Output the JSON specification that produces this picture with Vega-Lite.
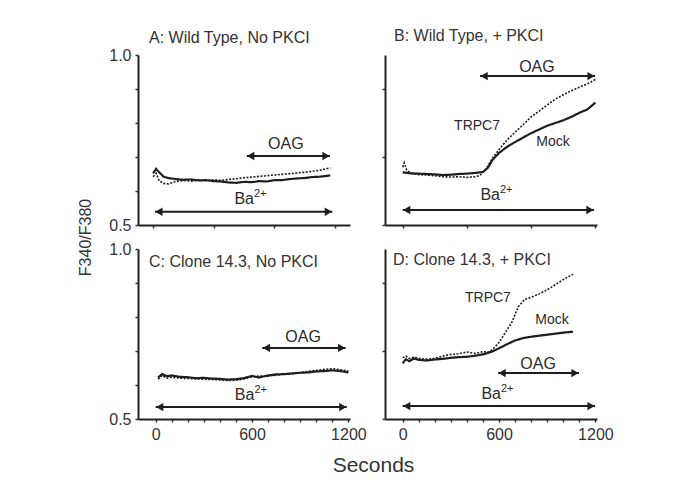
{
  "$schema": "https://vega.github.io/schema/vega-lite/v6.json",
  "padding": {"left": 77, "top": 28, "right": 5, "bottom": 5},
  "background": "white",
  "config": {
    "view": {"stroke": null},
    "font": "Liberation Sans",
    "axis": {"domainColor": "#222", "domainWidth": 2, "tickColor": "#333", "tickWidth": 1.5, "tickSize": 3, "labelFont": "Liberation Sans", "labelFontSize": 16, "labelColor": "#333", "grid": false, "labelPadding": 4, "labelFlush": false, "labelBound": false},
    "title": {"font": "Liberation Sans", "fontSize": 16, "fontWeight": "normal", "color": "#333", "anchor": "start", "frame": "group"},
    "text": {"font": "Liberation Sans", "color": "#2a2a2a", "baseline": "middle"}
  },
  "datasets": {
    "traces": [
      {"panel":"A","series":"Mock","t":0,"ratio":0.652},{"panel":"A","series":"Mock","t":20,"ratio":0.665},{"panel":"A","series":"Mock","t":40,"ratio":0.655},{"panel":"A","series":"Mock","t":70,"ratio":0.642},{"panel":"A","series":"Mock","t":100,"ratio":0.638},{"panel":"A","series":"Mock","t":150,"ratio":0.635},{"panel":"A","series":"Mock","t":200,"ratio":0.633},{"panel":"A","series":"Mock","t":250,"ratio":0.634},{"panel":"A","series":"Mock","t":300,"ratio":0.631},{"panel":"A","series":"Mock","t":350,"ratio":0.632},{"panel":"A","series":"Mock","t":400,"ratio":0.629},{"panel":"A","series":"Mock","t":450,"ratio":0.628},{"panel":"A","series":"Mock","t":500,"ratio":0.625},{"panel":"A","series":"Mock","t":550,"ratio":0.624},{"panel":"A","series":"Mock","t":600,"ratio":0.627},{"panel":"A","series":"Mock","t":650,"ratio":0.626},{"panel":"A","series":"Mock","t":700,"ratio":0.629},{"panel":"A","series":"Mock","t":750,"ratio":0.628},{"panel":"A","series":"Mock","t":800,"ratio":0.632},{"panel":"A","series":"Mock","t":850,"ratio":0.632},{"panel":"A","series":"Mock","t":900,"ratio":0.635},{"panel":"A","series":"Mock","t":950,"ratio":0.637},{"panel":"A","series":"Mock","t":1000,"ratio":0.638},{"panel":"A","series":"Mock","t":1050,"ratio":0.641},{"panel":"A","series":"Mock","t":1100,"ratio":0.642},{"panel":"A","series":"Mock","t":1140,"ratio":0.644},{"panel":"A","series":"Mock","t":1170,"ratio":0.646},
      {"panel":"A","series":"TRPC7","t":0,"ratio":0.642},{"panel":"A","series":"TRPC7","t":20,"ratio":0.652},{"panel":"A","series":"TRPC7","t":40,"ratio":0.63},{"panel":"A","series":"TRPC7","t":70,"ratio":0.622},{"panel":"A","series":"TRPC7","t":100,"ratio":0.621},{"panel":"A","series":"TRPC7","t":150,"ratio":0.628},{"panel":"A","series":"TRPC7","t":200,"ratio":0.631},{"panel":"A","series":"TRPC7","t":250,"ratio":0.629},{"panel":"A","series":"TRPC7","t":300,"ratio":0.632},{"panel":"A","series":"TRPC7","t":350,"ratio":0.63},{"panel":"A","series":"TRPC7","t":400,"ratio":0.633},{"panel":"A","series":"TRPC7","t":450,"ratio":0.631},{"panel":"A","series":"TRPC7","t":500,"ratio":0.634},{"panel":"A","series":"TRPC7","t":550,"ratio":0.636},{"panel":"A","series":"TRPC7","t":600,"ratio":0.639},{"panel":"A","series":"TRPC7","t":650,"ratio":0.641},{"panel":"A","series":"TRPC7","t":700,"ratio":0.643},{"panel":"A","series":"TRPC7","t":750,"ratio":0.645},{"panel":"A","series":"TRPC7","t":800,"ratio":0.647},{"panel":"A","series":"TRPC7","t":850,"ratio":0.649},{"panel":"A","series":"TRPC7","t":900,"ratio":0.651},{"panel":"A","series":"TRPC7","t":950,"ratio":0.653},{"panel":"A","series":"TRPC7","t":1000,"ratio":0.655},{"panel":"A","series":"TRPC7","t":1050,"ratio":0.658},{"panel":"A","series":"TRPC7","t":1100,"ratio":0.661},{"panel":"A","series":"TRPC7","t":1140,"ratio":0.665},{"panel":"A","series":"TRPC7","t":1170,"ratio":0.668},
      {"panel":"B","series":"Mock","t":0,"ratio":0.655},{"panel":"B","series":"Mock","t":50,"ratio":0.652},{"panel":"B","series":"Mock","t":100,"ratio":0.651},{"panel":"B","series":"Mock","t":150,"ratio":0.65},{"panel":"B","series":"Mock","t":200,"ratio":0.649},{"panel":"B","series":"Mock","t":250,"ratio":0.647},{"panel":"B","series":"Mock","t":300,"ratio":0.648},{"panel":"B","series":"Mock","t":350,"ratio":0.65},{"panel":"B","series":"Mock","t":400,"ratio":0.651},{"panel":"B","series":"Mock","t":450,"ratio":0.653},{"panel":"B","series":"Mock","t":500,"ratio":0.656},{"panel":"B","series":"Mock","t":530,"ratio":0.668},{"panel":"B","series":"Mock","t":560,"ratio":0.692},{"panel":"B","series":"Mock","t":600,"ratio":0.712},{"panel":"B","series":"Mock","t":650,"ratio":0.73},{"panel":"B","series":"Mock","t":700,"ratio":0.744},{"panel":"B","series":"Mock","t":750,"ratio":0.757},{"panel":"B","series":"Mock","t":800,"ratio":0.77},{"panel":"B","series":"Mock","t":850,"ratio":0.781},{"panel":"B","series":"Mock","t":900,"ratio":0.792},{"panel":"B","series":"Mock","t":950,"ratio":0.8},{"panel":"B","series":"Mock","t":1000,"ratio":0.808},{"panel":"B","series":"Mock","t":1050,"ratio":0.818},{"panel":"B","series":"Mock","t":1100,"ratio":0.83},{"panel":"B","series":"Mock","t":1150,"ratio":0.84},{"panel":"B","series":"Mock","t":1200,"ratio":0.86},
      {"panel":"B","series":"TRPC7","t":0,"ratio":0.67},{"panel":"B","series":"TRPC7","t":10,"ratio":0.683},{"panel":"B","series":"TRPC7","t":25,"ratio":0.662},{"panel":"B","series":"TRPC7","t":50,"ratio":0.652},{"panel":"B","series":"TRPC7","t":100,"ratio":0.648},{"panel":"B","series":"TRPC7","t":150,"ratio":0.647},{"panel":"B","series":"TRPC7","t":200,"ratio":0.645},{"panel":"B","series":"TRPC7","t":250,"ratio":0.642},{"panel":"B","series":"TRPC7","t":300,"ratio":0.641},{"panel":"B","series":"TRPC7","t":350,"ratio":0.642},{"panel":"B","series":"TRPC7","t":400,"ratio":0.64},{"panel":"B","series":"TRPC7","t":450,"ratio":0.642},{"panel":"B","series":"TRPC7","t":480,"ratio":0.645},{"panel":"B","series":"TRPC7","t":520,"ratio":0.665},{"panel":"B","series":"TRPC7","t":560,"ratio":0.697},{"panel":"B","series":"TRPC7","t":600,"ratio":0.722},{"panel":"B","series":"TRPC7","t":650,"ratio":0.75},{"panel":"B","series":"TRPC7","t":700,"ratio":0.773},{"panel":"B","series":"TRPC7","t":750,"ratio":0.795},{"panel":"B","series":"TRPC7","t":800,"ratio":0.818},{"panel":"B","series":"TRPC7","t":850,"ratio":0.835},{"panel":"B","series":"TRPC7","t":900,"ratio":0.853},{"panel":"B","series":"TRPC7","t":950,"ratio":0.87},{"panel":"B","series":"TRPC7","t":1000,"ratio":0.883},{"panel":"B","series":"TRPC7","t":1050,"ratio":0.895},{"panel":"B","series":"TRPC7","t":1100,"ratio":0.905},{"panel":"B","series":"TRPC7","t":1150,"ratio":0.915},{"panel":"B","series":"TRPC7","t":1200,"ratio":0.928},
      {"panel":"C","series":"Mock","t":15,"ratio":0.622},{"panel":"C","series":"Mock","t":40,"ratio":0.632},{"panel":"C","series":"Mock","t":70,"ratio":0.626},{"panel":"C","series":"Mock","t":100,"ratio":0.628},{"panel":"C","series":"Mock","t":150,"ratio":0.624},{"panel":"C","series":"Mock","t":200,"ratio":0.623},{"panel":"C","series":"Mock","t":250,"ratio":0.62},{"panel":"C","series":"Mock","t":300,"ratio":0.621},{"panel":"C","series":"Mock","t":350,"ratio":0.619},{"panel":"C","series":"Mock","t":400,"ratio":0.618},{"panel":"C","series":"Mock","t":450,"ratio":0.616},{"panel":"C","series":"Mock","t":500,"ratio":0.617},{"panel":"C","series":"Mock","t":550,"ratio":0.62},{"panel":"C","series":"Mock","t":600,"ratio":0.627},{"panel":"C","series":"Mock","t":640,"ratio":0.622},{"panel":"C","series":"Mock","t":700,"ratio":0.628},{"panel":"C","series":"Mock","t":750,"ratio":0.631},{"panel":"C","series":"Mock","t":800,"ratio":0.632},{"panel":"C","series":"Mock","t":850,"ratio":0.634},{"panel":"C","series":"Mock","t":900,"ratio":0.636},{"panel":"C","series":"Mock","t":950,"ratio":0.637},{"panel":"C","series":"Mock","t":1000,"ratio":0.64},{"panel":"C","series":"Mock","t":1050,"ratio":0.641},{"panel":"C","series":"Mock","t":1100,"ratio":0.643},{"panel":"C","series":"Mock","t":1150,"ratio":0.641},{"panel":"C","series":"Mock","t":1200,"ratio":0.637},
      {"panel":"C","series":"TRPC7","t":15,"ratio":0.617},{"panel":"C","series":"TRPC7","t":40,"ratio":0.628},{"panel":"C","series":"TRPC7","t":70,"ratio":0.62},{"panel":"C","series":"TRPC7","t":100,"ratio":0.623},{"panel":"C","series":"TRPC7","t":150,"ratio":0.62},{"panel":"C","series":"TRPC7","t":200,"ratio":0.619},{"panel":"C","series":"TRPC7","t":250,"ratio":0.618},{"panel":"C","series":"TRPC7","t":300,"ratio":0.617},{"panel":"C","series":"TRPC7","t":350,"ratio":0.616},{"panel":"C","series":"TRPC7","t":400,"ratio":0.615},{"panel":"C","series":"TRPC7","t":450,"ratio":0.613},{"panel":"C","series":"TRPC7","t":500,"ratio":0.614},{"panel":"C","series":"TRPC7","t":550,"ratio":0.618},{"panel":"C","series":"TRPC7","t":600,"ratio":0.624},{"panel":"C","series":"TRPC7","t":640,"ratio":0.626},{"panel":"C","series":"TRPC7","t":700,"ratio":0.626},{"panel":"C","series":"TRPC7","t":750,"ratio":0.629},{"panel":"C","series":"TRPC7","t":800,"ratio":0.632},{"panel":"C","series":"TRPC7","t":850,"ratio":0.633},{"panel":"C","series":"TRPC7","t":900,"ratio":0.636},{"panel":"C","series":"TRPC7","t":950,"ratio":0.64},{"panel":"C","series":"TRPC7","t":1000,"ratio":0.643},{"panel":"C","series":"TRPC7","t":1050,"ratio":0.646},{"panel":"C","series":"TRPC7","t":1100,"ratio":0.648},{"panel":"C","series":"TRPC7","t":1150,"ratio":0.645},{"panel":"C","series":"TRPC7","t":1200,"ratio":0.641},
      {"panel":"D","series":"Mock","t":0,"ratio":0.664},{"panel":"D","series":"Mock","t":20,"ratio":0.676},{"panel":"D","series":"Mock","t":40,"ratio":0.67},{"panel":"D","series":"Mock","t":70,"ratio":0.678},{"panel":"D","series":"Mock","t":100,"ratio":0.674},{"panel":"D","series":"Mock","t":150,"ratio":0.672},{"panel":"D","series":"Mock","t":200,"ratio":0.675},{"panel":"D","series":"Mock","t":250,"ratio":0.677},{"panel":"D","series":"Mock","t":300,"ratio":0.68},{"panel":"D","series":"Mock","t":350,"ratio":0.682},{"panel":"D","series":"Mock","t":400,"ratio":0.683},{"panel":"D","series":"Mock","t":450,"ratio":0.686},{"panel":"D","series":"Mock","t":500,"ratio":0.69},{"panel":"D","series":"Mock","t":550,"ratio":0.697},{"panel":"D","series":"Mock","t":600,"ratio":0.708},{"panel":"D","series":"Mock","t":650,"ratio":0.72},{"panel":"D","series":"Mock","t":700,"ratio":0.731},{"panel":"D","series":"Mock","t":750,"ratio":0.738},{"panel":"D","series":"Mock","t":800,"ratio":0.742},{"panel":"D","series":"Mock","t":850,"ratio":0.745},{"panel":"D","series":"Mock","t":900,"ratio":0.748},{"panel":"D","series":"Mock","t":950,"ratio":0.751},{"panel":"D","series":"Mock","t":1000,"ratio":0.754},{"panel":"D","series":"Mock","t":1061,"ratio":0.757},
      {"panel":"D","series":"TRPC7","t":0,"ratio":0.68},{"panel":"D","series":"TRPC7","t":20,"ratio":0.685},{"panel":"D","series":"TRPC7","t":40,"ratio":0.678},{"panel":"D","series":"TRPC7","t":70,"ratio":0.682},{"panel":"D","series":"TRPC7","t":100,"ratio":0.678},{"panel":"D","series":"TRPC7","t":150,"ratio":0.676},{"panel":"D","series":"TRPC7","t":200,"ratio":0.678},{"panel":"D","series":"TRPC7","t":250,"ratio":0.685},{"panel":"D","series":"TRPC7","t":300,"ratio":0.69},{"panel":"D","series":"TRPC7","t":350,"ratio":0.692},{"panel":"D","series":"TRPC7","t":400,"ratio":0.697},{"panel":"D","series":"TRPC7","t":450,"ratio":0.693},{"panel":"D","series":"TRPC7","t":500,"ratio":0.698},{"panel":"D","series":"TRPC7","t":540,"ratio":0.697},{"panel":"D","series":"TRPC7","t":570,"ratio":0.71},{"panel":"D","series":"TRPC7","t":600,"ratio":0.725},{"panel":"D","series":"TRPC7","t":640,"ratio":0.755},{"panel":"D","series":"TRPC7","t":680,"ratio":0.785},{"panel":"D","series":"TRPC7","t":720,"ratio":0.83},{"panel":"D","series":"TRPC7","t":760,"ratio":0.852},{"panel":"D","series":"TRPC7","t":800,"ratio":0.858},{"panel":"D","series":"TRPC7","t":850,"ratio":0.868},{"panel":"D","series":"TRPC7","t":900,"ratio":0.88},{"panel":"D","series":"TRPC7","t":950,"ratio":0.895},{"panel":"D","series":"TRPC7","t":1000,"ratio":0.91},{"panel":"D","series":"TRPC7","t":1030,"ratio":0.918},{"panel":"D","series":"TRPC7","t":1061,"ratio":0.926}
    ],
    "arrows": [
      {"panel":"A","name":"OAG","start":618,"end":1168,"level":0.703},
      {"panel":"A","name":"Ba","start":12,"end":1183,"level":0.539},
      {"panel":"B","name":"OAG","start":482,"end":1198,"level":0.938},
      {"panel":"B","name":"Ba","start":0,"end":1191,"level":0.544},
      {"panel":"C","name":"OAG","start":664,"end":1183,"level":0.709},
      {"panel":"C","name":"Ba","start":0,"end":1190,"level":0.535},
      {"panel":"D","name":"OAG","start":594,"end":1098,"level":0.635},
      {"panel":"D","name":"Ba","start":0,"end":1198,"level":0.538}
    ],
    "labels": [
      {"panel":"A","label":"OAG","t":876,"ratio":0.738},
      {"panel":"A","label":"Ba","t":666,"ratio":0.576},
      {"panel":"B","label":"TRPC7","t":463,"ratio":0.79},
      {"panel":"B","label":"Mock","t":936,"ratio":0.744},
      {"panel":"B","label":"OAG","t":836,"ratio":0.965},
      {"panel":"B","label":"Ba","t":606,"ratio":0.587},
      {"panel":"C","label":"OAG","t":918,"ratio":0.741},
      {"panel":"C","label":"Ba","t":615,"ratio":0.571},
      {"panel":"D","label":"TRPC7","t":531,"ratio":0.856},
      {"panel":"D","label":"Mock","t":930,"ratio":0.791},
      {"panel":"D","label":"OAG","t":843,"ratio":0.662},
      {"panel":"D","label":"Ba","t":612,"ratio":0.574}
    ]
  },
  "columns": 2,
  "spacing": {"row": 24, "column": 35},
  "bounds": "flush",
  "concat": [
    {
      "width": 212, "height": 170,
      "title": {"text": "A: Wild Type, No PKCI", "dx": 11, "offset": 1},
      "resolve": {"axis": {"y": "independent"}},
      "layer": [
        {"data": {"name": "traces"}, "transform": [{"filter": "datum.panel == 'A'"}],
         "mark": {"type": "line", "color": "#1e1e1e"},
         "encoding": {
           "x": {"field": "t", "type": "quantitative", "scale": {"domain": [-100, 1300], "nice": false, "zero": false}, "axis": {"values": [0,100,200,300,400,500,600,700,800,900,1000,1100,1200], "labels": false, "title": null}},
           "y": {"field": "ratio", "type": "quantitative", "scale": {"domain": [0.5, 1.0], "nice": false, "zero": false}, "axis": {"orient": "left", "values": [0.5,1.0], "format": ".1f", "title": "F340/F380", "titleX": -53, "titleY": 182, "titleAngle": 270, "titleAlign": "center", "titleBaseline": "middle", "titleFont": "Liberation Sans", "titleFontSize": 16, "titleFontWeight": "normal", "titleColor": "#333"}},
           "detail": {"field": "series"},
           "strokeDash": {"field": "series", "type": "nominal", "scale": {"domain": ["Mock", "TRPC7"], "range": [[1, 0], [2, 1.5]]}, "legend": null},
           "strokeWidth": {"field": "series", "type": "nominal", "scale": {"domain": ["Mock", "TRPC7"], "range": [2.2, 1.6]}, "legend": null}
         }},
        {"data": {"name": "arrows"}, "transform": [{"filter": "datum.panel == 'A'"}],
         "mark": {"type": "rule", "color": "#1e1e1e", "strokeWidth": 2},
         "encoding": {"x": {"field": "start", "type": "quantitative"}, "x2": {"field": "end"}, "y": {"field": "level", "type": "quantitative", "axis": {"orient": "left", "values": [0.6,0.7,0.8,0.9], "labels": false, "domain": false, "title": null}}}},
        {"data": {"name": "arrows"}, "transform": [{"filter": "datum.panel == 'A'"}],
         "mark": {"type": "point", "shape": "triangle-left", "filled": true, "size": 70, "color": "#1e1e1e", "opacity": 1, "xOffset": 4},
         "encoding": {"x": {"field": "start", "type": "quantitative"}, "y": {"field": "level", "type": "quantitative", "axis": null}}},
        {"data": {"name": "arrows"}, "transform": [{"filter": "datum.panel == 'A'"}],
         "mark": {"type": "point", "shape": "triangle-right", "filled": true, "size": 70, "color": "#1e1e1e", "opacity": 1, "xOffset": -4},
         "encoding": {"x": {"field": "end", "type": "quantitative"}, "y": {"field": "level", "type": "quantitative", "axis": null}}},
        {"data": {"name": "labels"}, "transform": [{"filter": "datum.panel == 'A' && datum.label != 'Ba'"}],
         "mark": {"type": "text", "align": "center"},
         "encoding": {"x": {"field": "t", "type": "quantitative"}, "y": {"field": "ratio", "type": "quantitative", "axis": null}, "text": {"field": "label"}, "size": {"condition": {"test": "datum.label == 'OAG'", "value": 16}, "value": 14}}},
        {"data": {"name": "labels"}, "transform": [{"filter": "datum.panel == 'A' && datum.label == 'Ba'"}],
         "mark": {"type": "text", "align": "right", "fontSize": 16},
         "encoding": {"x": {"field": "t", "type": "quantitative"}, "y": {"field": "ratio", "type": "quantitative", "axis": null}, "text": {"field": "label"}}},
        {"data": {"name": "labels"}, "transform": [{"filter": "datum.panel == 'A' && datum.label == 'Ba'"}],
         "mark": {"type": "text", "align": "left", "fontSize": 11, "dy": -5},
         "encoding": {"x": {"field": "t", "type": "quantitative"}, "y": {"field": "ratio", "type": "quantitative", "axis": null}, "text": {"value": "2+"}}}
      ]
    },
    {
      "width": 212, "height": 170,
      "title": {"text": "B: Wild Type, + PKCI", "dx": 9, "offset": 11},
      "layer": [
        {"data": {"name": "traces"}, "transform": [{"filter": "datum.panel == 'B'"}],
         "mark": {"type": "line", "color": "#1e1e1e"},
         "encoding": {
           "x": {"field": "t", "type": "quantitative", "scale": {"domain": [-110, 1210], "nice": false, "zero": false}, "axis": {"values": [0,200,400,600,800,1000,1200], "labels": false, "title": null}},
           "y": {"field": "ratio", "type": "quantitative", "scale": {"domain": [0.5, 1.0], "nice": false, "zero": false}, "axis": {"values": [0.5,0.55,0.6,0.65,0.7,0.75,0.8,0.85,0.9,0.95,1.0], "labels": false, "title": null}},
           "detail": {"field": "series"},
           "strokeDash": {"field": "series", "type": "nominal", "scale": {"domain": ["Mock", "TRPC7"], "range": [[1, 0], [2, 1.5]]}, "legend": null},
           "strokeWidth": {"field": "series", "type": "nominal", "scale": {"domain": ["Mock", "TRPC7"], "range": [2.2, 1.6]}, "legend": null}
         }},
        {"data": {"name": "arrows"}, "transform": [{"filter": "datum.panel == 'B'"}],
         "mark": {"type": "rule", "color": "#1e1e1e", "strokeWidth": 2},
         "encoding": {"x": {"field": "start", "type": "quantitative"}, "x2": {"field": "end"}, "y": {"field": "level", "type": "quantitative"}}},
        {"data": {"name": "arrows"}, "transform": [{"filter": "datum.panel == 'B'"}],
         "mark": {"type": "point", "shape": "triangle-left", "filled": true, "size": 70, "color": "#1e1e1e", "opacity": 1, "xOffset": 4},
         "encoding": {"x": {"field": "start", "type": "quantitative"}, "y": {"field": "level", "type": "quantitative"}}},
        {"data": {"name": "arrows"}, "transform": [{"filter": "datum.panel == 'B'"}],
         "mark": {"type": "point", "shape": "triangle-right", "filled": true, "size": 70, "color": "#1e1e1e", "opacity": 1, "xOffset": -4},
         "encoding": {"x": {"field": "end", "type": "quantitative"}, "y": {"field": "level", "type": "quantitative"}}},
        {"data": {"name": "labels"}, "transform": [{"filter": "datum.panel == 'B' && datum.label != 'Ba'"}],
         "mark": {"type": "text", "align": "center"},
         "encoding": {"x": {"field": "t", "type": "quantitative"}, "y": {"field": "ratio", "type": "quantitative"}, "text": {"field": "label"}, "size": {"condition": {"test": "datum.label == 'OAG'", "value": 16}, "value": 14}}},
        {"data": {"name": "labels"}, "transform": [{"filter": "datum.panel == 'B' && datum.label == 'Ba'"}],
         "mark": {"type": "text", "align": "right", "fontSize": 16},
         "encoding": {"x": {"field": "t", "type": "quantitative"}, "y": {"field": "ratio", "type": "quantitative"}, "text": {"field": "label"}}},
        {"data": {"name": "labels"}, "transform": [{"filter": "datum.panel == 'B' && datum.label == 'Ba'"}],
         "mark": {"type": "text", "align": "left", "fontSize": 11, "dy": -5},
         "encoding": {"x": {"field": "t", "type": "quantitative"}, "y": {"field": "ratio", "type": "quantitative"}, "text": {"value": "2+"}}}
      ]
    },
    {
      "width": 212, "height": 170,
      "title": {"text": "C: Clone 14.3, No PKCI", "dx": 11, "offset": -29},
      "resolve": {"axis": {"x": "independent", "y": "independent"}},
      "layer": [
        {"data": {"name": "traces"}, "transform": [{"filter": "datum.panel == 'C'"}],
         "mark": {"type": "line", "color": "#1e1e1e"},
         "encoding": {
           "x": {"field": "t", "type": "quantitative", "scale": {"domain": [-110, 1210], "nice": false, "zero": false}, "axis": {"orient": "bottom", "values": [0,600,1200], "format": "d", "title": "Seconds", "titleX": 235, "titleY": 52, "titleAlign": "center", "titleBaseline": "alphabetic", "titleFont": "Liberation Sans", "titleFontSize": 21, "titleFontWeight": "normal", "titleColor": "#333"}},
           "y": {"field": "ratio", "type": "quantitative", "scale": {"domain": [0.5, 1.0], "nice": false, "zero": false}, "axis": {"orient": "left", "values": [0.5,1.0], "format": ".1f", "title": null}},
           "detail": {"field": "series"},
           "strokeDash": {"field": "series", "type": "nominal", "scale": {"domain": ["Mock", "TRPC7"], "range": [[1, 0], [2, 1.5]]}, "legend": null},
           "strokeWidth": {"field": "series", "type": "nominal", "scale": {"domain": ["Mock", "TRPC7"], "range": [2.2, 1.6]}, "legend": null}
         }},
        {"data": {"name": "arrows"}, "transform": [{"filter": "datum.panel == 'C'"}],
         "mark": {"type": "rule", "color": "#1e1e1e", "strokeWidth": 2},
         "encoding": {"x": {"field": "start", "type": "quantitative", "axis": {"orient": "bottom", "values": [100,200,300,400,500,700,800,900,1000,1100], "labels": false, "domain": false, "title": null}}, "x2": {"field": "end"}, "y": {"field": "level", "type": "quantitative", "axis": {"orient": "left", "values": [0.6,0.7,0.8,0.9], "labels": false, "domain": false, "title": null}}}},
        {"data": {"name": "arrows"}, "transform": [{"filter": "datum.panel == 'C'"}],
         "mark": {"type": "point", "shape": "triangle-left", "filled": true, "size": 70, "color": "#1e1e1e", "opacity": 1, "xOffset": 4},
         "encoding": {"x": {"field": "start", "type": "quantitative", "axis": null}, "y": {"field": "level", "type": "quantitative", "axis": null}}},
        {"data": {"name": "arrows"}, "transform": [{"filter": "datum.panel == 'C'"}],
         "mark": {"type": "point", "shape": "triangle-right", "filled": true, "size": 70, "color": "#1e1e1e", "opacity": 1, "xOffset": -4},
         "encoding": {"x": {"field": "end", "type": "quantitative", "axis": null}, "y": {"field": "level", "type": "quantitative", "axis": null}}},
        {"data": {"name": "labels"}, "transform": [{"filter": "datum.panel == 'C' && datum.label != 'Ba'"}],
         "mark": {"type": "text", "align": "center"},
         "encoding": {"x": {"field": "t", "type": "quantitative", "axis": null}, "y": {"field": "ratio", "type": "quantitative", "axis": null}, "text": {"field": "label"}, "size": {"condition": {"test": "datum.label == 'OAG'", "value": 16}, "value": 14}}},
        {"data": {"name": "labels"}, "transform": [{"filter": "datum.panel == 'C' && datum.label == 'Ba'"}],
         "mark": {"type": "text", "align": "right", "fontSize": 16},
         "encoding": {"x": {"field": "t", "type": "quantitative", "axis": null}, "y": {"field": "ratio", "type": "quantitative", "axis": null}, "text": {"field": "label"}}},
        {"data": {"name": "labels"}, "transform": [{"filter": "datum.panel == 'C' && datum.label == 'Ba'"}],
         "mark": {"type": "text", "align": "left", "fontSize": 11, "dy": -5},
         "encoding": {"x": {"field": "t", "type": "quantitative", "axis": null}, "y": {"field": "ratio", "type": "quantitative", "axis": null}, "text": {"value": "2+"}}}
      ]
    },
    {
      "width": 212, "height": 170,
      "title": {"text": "D: Clone 14.3, + PKCI", "dx": 8, "offset": -19},
      "resolve": {"axis": {"x": "independent"}},
      "layer": [
        {"data": {"name": "traces"}, "transform": [{"filter": "datum.panel == 'D'"}],
         "mark": {"type": "line", "color": "#1e1e1e"},
         "encoding": {
           "x": {"field": "t", "type": "quantitative", "scale": {"domain": [-110, 1210], "nice": false, "zero": false}, "axis": {"orient": "bottom", "values": [0,600,1200], "format": "d", "title": null}},
           "y": {"field": "ratio", "type": "quantitative", "scale": {"domain": [0.5, 1.0], "nice": false, "zero": false}, "axis": {"values": [0.5,0.6,0.7,0.8,0.9,1.0], "labels": false, "title": null}},
           "detail": {"field": "series"},
           "strokeDash": {"field": "series", "type": "nominal", "scale": {"domain": ["Mock", "TRPC7"], "range": [[1, 0], [2, 1.5]]}, "legend": null},
           "strokeWidth": {"field": "series", "type": "nominal", "scale": {"domain": ["Mock", "TRPC7"], "range": [2.2, 1.6]}, "legend": null}
         }},
        {"data": {"name": "arrows"}, "transform": [{"filter": "datum.panel == 'D'"}],
         "mark": {"type": "rule", "color": "#1e1e1e", "strokeWidth": 2},
         "encoding": {"x": {"field": "start", "type": "quantitative", "axis": {"orient": "bottom", "values": [100,200,300,400,500,700,800,900,1000,1100], "labels": false, "domain": false, "title": null}}, "x2": {"field": "end"}, "y": {"field": "level", "type": "quantitative"}}},
        {"data": {"name": "arrows"}, "transform": [{"filter": "datum.panel == 'D'"}],
         "mark": {"type": "point", "shape": "triangle-left", "filled": true, "size": 70, "color": "#1e1e1e", "opacity": 1, "xOffset": 4},
         "encoding": {"x": {"field": "start", "type": "quantitative", "axis": null}, "y": {"field": "level", "type": "quantitative"}}},
        {"data": {"name": "arrows"}, "transform": [{"filter": "datum.panel == 'D'"}],
         "mark": {"type": "point", "shape": "triangle-right", "filled": true, "size": 70, "color": "#1e1e1e", "opacity": 1, "xOffset": -4},
         "encoding": {"x": {"field": "end", "type": "quantitative", "axis": null}, "y": {"field": "level", "type": "quantitative"}}},
        {"data": {"name": "labels"}, "transform": [{"filter": "datum.panel == 'D' && datum.label != 'Ba'"}],
         "mark": {"type": "text", "align": "center"},
         "encoding": {"x": {"field": "t", "type": "quantitative", "axis": null}, "y": {"field": "ratio", "type": "quantitative"}, "text": {"field": "label"}, "size": {"condition": {"test": "datum.label == 'OAG'", "value": 16}, "value": 14}}},
        {"data": {"name": "labels"}, "transform": [{"filter": "datum.panel == 'D' && datum.label == 'Ba'"}],
         "mark": {"type": "text", "align": "right", "fontSize": 16},
         "encoding": {"x": {"field": "t", "type": "quantitative", "axis": null}, "y": {"field": "ratio", "type": "quantitative"}, "text": {"field": "label"}}},
        {"data": {"name": "labels"}, "transform": [{"filter": "datum.panel == 'D' && datum.label == 'Ba'"}],
         "mark": {"type": "text", "align": "left", "fontSize": 11, "dy": -5},
         "encoding": {"x": {"field": "t", "type": "quantitative", "axis": null}, "y": {"field": "ratio", "type": "quantitative"}, "text": {"value": "2+"}}}
      ]
    }
  ]
}
